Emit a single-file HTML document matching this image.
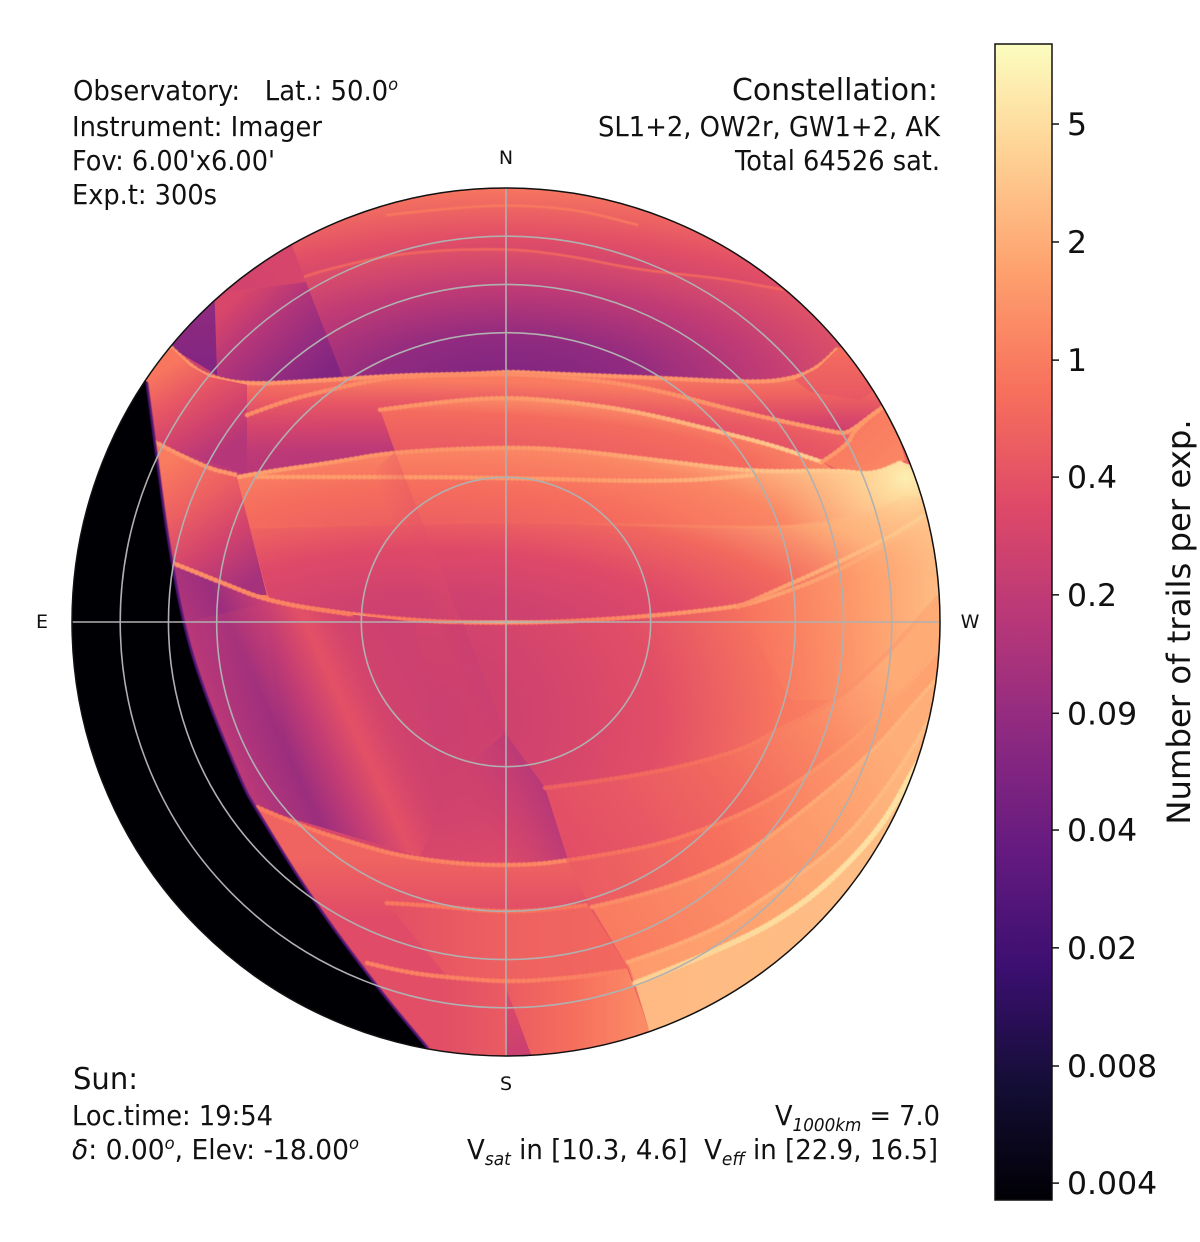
<!DOCTYPE html>
<html lang="en">
<head>
<meta charset="utf-8">
<title>Satellite trails sky map</title>
<style>
  html,body{margin:0;padding:0;background:#fff;}
  svg{display:block;}
  text{font-family:"DejaVu Sans","Liberation Sans",sans-serif;fill:#111;}
  .info{font-size:27.5px;}
</style>
</head>
<body>
<svg id="chart" xmlns="http://www.w3.org/2000/svg" width="1200" height="1242" viewBox="0 0 1200 1242">
  <defs id="defs">
    <clipPath id="disk-clip"><circle cx="506" cy="622" r="434"/></clipPath>
    <filter id="rim-soft" filterUnits="userSpaceOnUse" x="0" y="100" width="1000" height="1000"><feGaussianBlur stdDeviation="0.6"/></filter>
  </defs>
  <g id="heat" clip-path="url(#disk-clip)"></g>
  <g id="grid"></g>
  <circle cx="506" cy="622" r="434" fill="none" stroke="#111" stroke-width="1.5"/>
  <g id="compass" font-size="19"></g>

  <g class="info">
    <text x="73" y="100" textLength="325" lengthAdjust="spacingAndGlyphs" xml:space="preserve">Observatory:   Lat.: 50.0<tspan dy="-10" font-size="17" font-style="italic">o</tspan></text>
    <text x="72" y="136" textLength="250" lengthAdjust="spacingAndGlyphs">Instrument: Imager</text>
    <text x="72" y="170" textLength="203" lengthAdjust="spacingAndGlyphs">Fov: 6.00'x6.00'</text>
    <text x="72" y="204" textLength="145" lengthAdjust="spacingAndGlyphs">Exp.t: 300s</text>
  </g>
  <g class="info">
    <text x="732" y="100" font-size="30" textLength="206" lengthAdjust="spacingAndGlyphs">Constellation:</text>
    <text x="598" y="136" textLength="342" lengthAdjust="spacingAndGlyphs">SL1+2, OW2r, GW1+2, AK</text>
    <text x="735" y="170" textLength="205" lengthAdjust="spacingAndGlyphs">Total 64526 sat.</text>
  </g>
  <g class="info">
    <text x="73" y="1089" font-size="30" textLength="65" lengthAdjust="spacingAndGlyphs">Sun:</text>
    <text x="72" y="1125" textLength="201" lengthAdjust="spacingAndGlyphs">Loc.time: 19:54</text>
    <text x="72" y="1159" textLength="287" lengthAdjust="spacingAndGlyphs"><tspan font-style="italic">δ</tspan>: 0.00<tspan dy="-10" font-size="17" font-style="italic">o</tspan><tspan dy="10">, Elev: -18.00</tspan><tspan dy="-10" font-size="17" font-style="italic">o</tspan></text>
  </g>
  <g class="info">
    <text x="775" y="1125" textLength="165" lengthAdjust="spacingAndGlyphs">V<tspan dy="6" font-size="18" font-style="italic">1000km</tspan><tspan dy="-6"> = 7.0</tspan></text>
    <text x="467" y="1159" textLength="471" lengthAdjust="spacingAndGlyphs" xml:space="preserve">V<tspan dy="6" font-size="18" font-style="italic">sat</tspan><tspan dy="-6"> in [10.3, 4.6]  V</tspan><tspan dy="6" font-size="18" font-style="italic">eff</tspan><tspan dy="-6"> in [22.9, 16.5]</tspan></text>
  </g>

  <g id="colorbar"></g>
  <text transform="translate(1190,622) rotate(-90)" text-anchor="middle" font-size="32.3">Number of trails per exp.</text>
</svg>

<script>
// ---------- Colour axis data ----------
const tickValues = [0.004, 0.0088, 0.0195, 0.0431, 0.0946, 0.21, 0.464, 1.02, 2.26, 5];
const tickLabels = ["0.004", "0.008", "0.02", "0.04", "0.09", "0.2", "0.4", "1", "2", "5"];
const colorDomain = [0.00357, 8.57];
const magmaStops = ["#000004", "#140e36", "#3b0f70", "#641a80", "#8c2981", "#b73779", "#de4968", "#f7705c", "#fe9f6d", "#fecf92", "#fcfdbf"];

// ---------- Polar axis data (zenith angle, degrees; azimuth, degrees) ----------
const gridZenith = [30, 60, 70, 80];
const gridAzimuth = [0, 90, 180, 270];
const compassLetters = ["N", "W", "S", "E"];

// ---------- Sky regions, painted in order ----------
// Coordinates are sky offsets in degrees: [west of zenith, north of zenith].
const layerNames = [
  "cap-base", "cap-crest-top", "cap-crest-second", "cap-northeast-sliver", "cap-dark-sector", "cap-dark-wedge",
  "band-a", "band-a-east-side", "band-a-west-corner", "band-b", "band-c", "band-r1",
  "band-d", "crest-e", "band-f", "band-q", "dim-upper-diagonal", "band-g",
  "crest-g2", "crest-horizon", "band-fan", "fan-top-lighten", "dim-lower-diagonal", "diagonal-shade", "band-n",
  "band-o", "band-p", "south-wedge", "band-west", "west-glow", "band-i",
  "band-j", "band-k", "band-l", "band-m"
];
const layerEdges = [
  [],
  [[-24.9,84.4],[-11,85.9],[.8,86.5],[10.2,85.9],[17,85],[27.4,82.3]],
  [[-57.9,68.4],[-44.8,70.5],[-38,73],[-21.4,76.7],[-.2,77.6],[13.7,75.9],[27.4,73],[44.8,71.3],[55.2,69.3],[57.9,68.9]],
  [],
  [],
  [],
  [[-69.3,56.8],[-65.5,53.1],[-61.4,50.8],[-53.7,49.2],[-36.5,50.2],[-21.4,51.2],[-7.5,51.4],[.8,51.9],[6.6,51.6],[27.4,50.8],[52.3,49.6],[59.9,50.6],[64.7,52.7],[68.9,56.8]],
  [],
  [],
  [[-53.7,42.9],[-46.2,45.8],[-35.1,48.5],[-28.2,50],[-21.4,51],[0,51.4],[6.6,51.2],[27.4,49.2],[48.1,43.6],[68.9,39.2],[70.9,39.2],[75.1,42.3],[78,44.4]],
  [[-26.1,44],[-14.3,45.6],[-.2,46.7],[13.7,45.6],[27.4,43.6],[41.3,40.2],[55.2,36.7],[65.5,33.2]],
  [[65.5,33.2],[70.9,36.7],[71.8,39.2],[75.1,42.3],[78,44.4]],
  [[-56.2,29.9],[-51.6,30.9],[-35.1,33.2],[-23.4,35.3],[-.2,36.3],[13.7,35.7],[34.4,33.2],[51.6,31.1],[68.9,31.5],[75.9,30.5],[82.1,33.2]],
  [[-51.6,30.1],[-26.1,30.1],[-.2,29.9],[34.4,29],[51.6,30.5]],
  [[-58.9,19.5],[-35.1,20.1],[-.2,20.9],[27.4,20.1],[55.2,19.5],[65.5,20.5],[75.9,22.8],[82.8,26.3]],
  [[-72.8,37.3],[-62.8,32.1],[-55.9,30.5]],
  [],
  [[-69.1,12.2],[-59.3,8.3],[-48.9,4.1],[-31.7,1.5],[-14.3,0],[0,-.2],[10.2,0],[27.4,1],[48.1,3.1],[55.2,5.2],[68.9,10.4],[82.8,18.7],[86.9,22.2]],
  [[-55.6,3.9],[-47.5,2.9],[-36.5,2.1],[-28.2,.8]],
  [[-14.3,0],[0,0],[14.3,0]],
  [[-69.1,12.2],[-59.3,8.3],[-48.9,4.1],[-31.7,1.5]],
  [],
  [],
  [],
  [[-51.6,-38.4],[-42.1,-42.5],[-31.7,-45.8],[-21.4,-48.7],[-7.5,-50.4],[5.4,-50.4],[12.9,-49.4]],
  [[-24.7,-58.3],[-15.8,-58.7],[.8,-60.4],[17,-58.7]],
  [[-28.8,-70.7],[-21.4,-72.6],[-11,-73.8],[.8,-74.7],[13.7,-73.8],[25.3,-72.2]],
  [],
  [[48.1,3.1],[59.9,8.3],[68.9,12.4],[79.2,17.4],[86.9,22.2]],
  [],
  [[8.1,-34.4],[27.4,-32.1],[48.1,-27],[55.2,-23],[68.9,-16.2],[79.2,-6.4],[84.8,-.2],[89.6,5.2]],
  [[12.9,-49.4],[27.4,-47.3],[41.3,-43.1],[55.2,-36.9],[68.9,-27.2],[75.9,-20.9],[86.3,-10],[91,-3.7]],
  [[17.8,-59.1],[30.9,-56.2],[48.1,-49.4],[62,-39],[75.9,-27.2],[84.8,-16.8],[91,-10]],
  [[25.3,-70.5],[41.3,-65.3],[55.2,-56.2],[68.9,-46.7],[79.2,-34.2],[86.3,-23],[91,-14.1]],
  [[26.8,-74.9],[48.1,-66.6],[62,-58.3],[72.4,-48.7],[79.2,-40.4],[84.8,-30.1],[91,-20.3]]
];
const layerCloses = [
  [[-95,95],[95,95],[95,-95],[-95,-95]],
  null,
  [[73.4,58.5],[73.4,46],[-60.4,46]],
  [[-44.2,77.6],[-41.5,70.5],[-57.7,68.4],[-60.4,66.4],[-70,75],[-46,90]],
  [[-60.4,66.4],[-57.7,68.4],[-41.5,70.5],[-33.8,50.6],[-36.5,49.8],[-53.7,49.2],[-61.4,50.8]],
  [[-60.4,66.4],[-59.9,51.2],[-69.3,56.8],[-80,60],[-70,75]],
  [[79.6,58.5],[85.9,19],[-75.9,19],[-75.9,58.5]],
  [[68.9,56.8],[64.7,52.7],[59.9,50.2],[63,47.7],[73.4,46],[79.6,50.2],[75.5,58.5]],
  [[-69.3,56.8],[-65.5,53.1],[-61.4,50.8],[-53.7,49.2],[-53.7,30.5],[-72.8,37.3],[-75.9,50.2]],
  [[85.9,37.7],[81.7,19],[-53.7,19]],
  [[71.3,29.4],[71.3,19],[-17.8,19],[-23,35.3]],
  [[80.7,40.9],[82.8,33.6],[77.6,29.9],[68.9,31.5]],
  [[91,25.3],[91,-3.7],[-44.8,-3.7],[-49.6,5.6]],
  null,
  [[91,25.3],[91,-3.7],[-44.8,-3.7],[-49.6,6.2],[-53.1,19.5]],
  [[-49.6,5.6],[-67.6,5.6],[-70.7,18]],
  [[-23,35.3],[-9.5,.4],[-15.8,0],[-27.2,31.5]],
  [[94,22.2],[94,-99],[-84,-99],[-84,12.2]],
  null,
  null,
  [[-18.9,0],[-15.8,-20.3],[-12.7,-36.9],[-17.8,-48.7],[-52.1,-38.4],[-54.5,-34.2],[-62.8,-14.1],[-67,-.2]],
  [[-67,-.2],[-48.9,4.1],[-49.4,-3.7],[-45.8,-28.6],[-57,-28.6]],
  [[-8.9,-.2],[-.2,-23],[-3.3,-24.5],[-13.7,-.6]],
  [[-.2,-23],[8.1,-34.4],[12.9,-49.4],[-7.5,-50.4],[-10.6,-34.8],[-6,-28]],
  [[17.8,-59.7],[25.3,-71.6],[29.5,-84],[30.9,-92.9],[-17.8,-92.9],[-40.6,-57]],
  [[25.3,-71.6],[23.6,-76.3],[-12.2,-73.6]],
  [[29.5,-84],[30.9,-92.9],[-22,-92.9]],
  [[-.2,-75.3],[5.6,-90.8],[-.2,-90.8]],
  [[91,25],[91,-16.2],[59,-16.2]],
  [[51.6,31.1],[68.9,31.5],[75.9,30.5],[82.1,33.2],[91,30],[91,-5],[60,8],[48,25]],
  [[94,-37],[94,-99],[30.9,-92.9],[29.5,-84],[25.3,-71.6],[17.8,-59.7],[12.9,-49.4]],
  [[94,-99],[30.9,-92.9],[29.5,-84],[25.3,-71.6],[17.8,-59.7]],
  [[94,-99],[30.9,-92.9],[29.5,-84],[25.3,-71.6]],
  [[94,-99],[30.9,-92.9],[29.5,-84],[26.8,-74.9]],
  [[94,-99],[30.9,-92.9],[29.5,-84]]
];
const layerAxes = [
  ["r",0,48.1,107.8,42.5],
  null,
  ["r",0,48.1,107.8,42.5],
  ["l",-60,60,-44,78],
  ["l",-55.2,67.8,-38.6,50.2],
  ["l",-60,66,-60,51],
  ["l",0,51.9,0,36.7],
  ["l",70,56,70,46],
  ["l",-65.5,55.4,-55.2,37.7],
  ["r",-30.3,31.5,134.8,18.7],
  ["r",-22,29.5,99.6,18.7],
  ["l",70,42,80,32],
  ["r",-15.8,12.9,103.7,31.1],
  null,
  ["r",-15.8,-3.7,107.8,37.3],
  ["l",-69.7,33.6,-53.1,8.7],
  ["l",-16.4,18,-22.4,15.7],
  ["r",-17.8,-20.3,99.6,83],
  null,
  null,
  ["l",-62.4,-24.5,-23,-6.4],
  ["l",-50,0,-50,-28],
  ["l",-4.6,-11.4,-9.5,-13.7],
  ["l",5,-28.6,-8.5,-34.8],
  ["l",0,-49,0,-68],
  ["l",-22,0,23,0],
  ["l",-14,0,28,0],
  ["l",0,-76,0,-90],
  ["l",48,0,88,0],
  ["r",82.8,29.9,27,22.8],
  ["l",11.2,-53.5,77.6,-7.9],
  ["l",2.9,-57.7,81.7,-20.3],
  ["l",23.6,-68,81.7,-26.5],
  ["l",29.9,-74.2,81.7,-30.7],
  ["l",30,0,85,0]
];
const layerValues = [
  [.06,.085,.2,.42,.95],
  null,
  [.06,.085,.21,.5,1.0],
  [.28,.33],
  [.34,.17,.1,.065],
  [.085,.065],
  [1.05,.62,.33,.2],
  [.75,.5],
  [.9,.5,.3,.17],
  [.16,.2,.32,.5,1.0],
  [.45,.5,.6,.75,1.6],
  [.95,1.2],
  [.55,.6,.8,1.2,3.5],
  null,
  [.25,.28,.38,.72,2.2],
  [1.0,.6,.3,.13],
  [.4,.4],
  [.25,.3,.42,.9,1.6],
  null,
  null,
  [.24,.15,.105,.22,.44,.3,.27],
  [.26,.22],
  [.2,.2],
  [.18,.25],
  [.65,.5,.4,.4],
  [.45,.62,.7],
  [.42,.55,.8,1.3],
  [.4,.25],
  [1.1,1.3,1.9,2.8],
  [6.8,4.2,3,2.2],
  [.4,.5,.72,1.2,2.2],
  [.48,.6,.85,1.3,1.9],
  [1.0,1.3,1.7,2.3],
  [1.7,1.9,2.2,2.6],
  [2.8,3.0]
];
// Rim brightness along each edge, read west side to east side.
const layerRims = [
  null, [.95], [.68], null, null, null,
  [1.4], null, null, [1.2,1.2,1.3,1.6], [1.3,1.5,2.2,3.5], [1.5],
  [1.7,1.3,1.5,2.5,4.5], [1.6,1.5,1.5,2.5], [.8,.6,.7,1.3,3], [1.4], null, [1.3,.9,.9,1.6,3],
  [1.4], [1,4,1], [1.3,.9], null, null, null, [.9,1,1.1],
  [.85], [1.0], null, [1.3,1.9,2.6,3.4], null, [.55,.7,1.05,2.1],
  [.7,.9,1.4,2.1], [1.15,1.5,2,2.5], [1.85,2.1,2.4,2.8], [3.5,4.5,5]
];

// Earth-shadow terminator: black region west of this edge.
const shadowEdge = [[-74.5,49.8],[-72.8,37.3],[-70.3,18],[-67,-.2],[-62.8,-14.1],[-54.5,-34.2],[-52.1,-38.4],[-40.6,-57],[-26.8,-75.7],[-16.2,-88.4]];
const shadowClose = [[-16.2,-100],[-100,-100],[-100,60.6],[-84.2,60.6]];
const shadowValue = 0.00357;
const shadowRim = [0.025];

// ---------- Presentation (not data) ----------
const CX = 506, CY = 622, R = 434, HORIZON = 90;
const BAR = {x: 995, y: 44, w: 57, h: 1156};
const layerFades = {"west-glow": [1, 0], "dim-upper-diagonal": [.3, 0], "dim-lower-diagonal": [.3, 0], "diagonal-shade": [1, 0], "band-west": [0, 1], "fan-top-lighten": [.28, 0]};
const beadless = {"cap-crest-top": 1, "cap-crest-second": 1, "crest-horizon": 1, "band-f": 1, "earth-shadow": 1};
const thickRim = {"band-m": 1};
const NS = "http://www.w3.org/2000/svg";

// ---------- Axis functions ----------
function skyX(west) { return CX + west * R / HORIZON; }
function skyY(north) { return CY - north * R / HORIZON; }
function zenithRadius(z) { return z * R / HORIZON; }
function colorPos(v) {
  const p = Math.log(v / colorDomain[0]) / Math.log(colorDomain[1] / colorDomain[0]);
  return Math.max(0, Math.min(1, p));
}
function hexRgb(h) { return [1, 3, 5].map(i => parseInt(h.substr(i, 2), 16)); }
function colorOf(v) {
  const p = colorPos(v) * (magmaStops.length - 1);
  const i = Math.min(magmaStops.length - 2, Math.floor(p));
  const a = hexRgb(magmaStops[i]), b = hexRgb(magmaStops[i + 1]), f = p - i;
  return "rgb(" + a.map((c, k) => Math.round(c + (b[k] - c) * f)).join(",") + ")";
}
function barY(v) { return BAR.y + BAR.h * (1 - colorPos(v)); }
function fmtPoint(p) { return skyX(p[0]).toFixed(1) + " " + skyY(p[1]).toFixed(1); }
function edgePath(pts) {
  if (!pts.length) return "";
  let d = "M" + fmtPoint(pts[0]);
  for (let i = 1; i < pts.length - 1; i++) {
    const mid = [(pts[i][0] + pts[i + 1][0]) / 2, (pts[i][1] + pts[i + 1][1]) / 2];
    d += "Q" + fmtPoint(pts[i]) + " " + fmtPoint(mid);
  }
  if (pts.length > 1) d += "L" + fmtPoint(pts[pts.length - 1]);
  return d;
}
function regionPath(edge, close) {
  let d = edgePath(edge);
  close.forEach((p, i) => { d += (d === "" ? "M" : "L") + fmtPoint(p); });
  return d + "Z";
}
function make(tag, parent) {
  const el = document.createElementNS(NS, tag);
  parent.appendChild(el);
  return el;
}

// ---------- Draw the sky layers ----------
const heat = document.getElementById("heat");
const defs = document.getElementById("defs");

function addGradient(id, axis, values, fade) {
  let g;
  if (axis[0] === "r") {
    g = make("radialGradient", defs);
    g.setAttribute("cx", 0);
    g.setAttribute("cy", 0);
    g.setAttribute("r", 1);
    const rx = axis[3] * R / HORIZON, ry = axis[4] * R / HORIZON;
    g.setAttribute("gradientTransform", "translate(" + skyX(axis[1]) + " " + skyY(axis[2]) + ") scale(" + rx + " " + ry + ")");
  } else {
    g = make("linearGradient", defs);
    g.setAttribute("x1", skyX(axis[1]));
    g.setAttribute("y1", skyY(axis[2]));
    g.setAttribute("x2", skyX(axis[3]));
    g.setAttribute("y2", skyY(axis[4]));
  }
  g.setAttribute("id", id);
  g.setAttribute("gradientUnits", "userSpaceOnUse");
  values.forEach((v, i) => {
    const t = values.length > 1 ? i / (values.length - 1) : 0;
    const s = make("stop", g);
    s.setAttribute("offset", t);
    s.setAttribute("stop-color", colorOf(v));
    if (fade) s.setAttribute("stop-opacity", fade[0] + (fade[1] - fade[0]) * t);
  });
}

function addRimPaint(id, edge, values, gain) {
  const xs = edge.map(p => p[0]);
  const axis = ["l", Math.min.apply(null, xs), 0, Math.max.apply(null, xs), 0];
  addGradient(id, axis, values.map(v => v * gain), null);
  return "url(#" + id + ")";
}

function drawRim(edge, values, name) {
  const faint = values[0] < 0.1;
  const line = make("path", heat);
  
  
  line.setAttribute("d", edgePath(edge));
  line.setAttribute("fill", "none");
  line.setAttribute("stroke", addRimPaint("rim-" + name, edge, values, 1));
  line.setAttribute("stroke-width", faint ? 2.5 : (thickRim[name] ? 5 : (beadless[name] ? 2.5 : 3.5)));
  line.setAttribute("stroke-linejoin", "round");
  line.setAttribute("filter", "url(#rim-soft)");
  if (beadless[name]) return;
  const beads = make("path", heat);
  
  
  beads.setAttribute("d", edgePath(edge));
  beads.setAttribute("fill", "none");
  beads.setAttribute("stroke", addRimPaint("bead-" + name, edge, values, 1.12));
  beads.setAttribute("stroke-width", thickRim[name] ? 6 : 4.5);
  beads.setAttribute("stroke-linecap", "round");
  beads.setAttribute("stroke-dasharray", "0.1 5");
  beads.setAttribute("filter", "url(#rim-soft)");
}

layerNames.forEach((name, i) => {
  const close = layerCloses[i];
  if (close) {
    const id = "grad-" + i;
    addGradient(id, layerAxes[i], layerValues[i], layerFades[name]);
    const poly = make("path", heat);
    
    
    poly.setAttribute("d", regionPath(layerEdges[i], close));
    poly.setAttribute("fill", "url(#" + id + ")");
  }
  if (layerRims[i] !== null && layerEdges[i].length) drawRim(layerEdges[i], layerRims[i], name);
});

const shadow = make("path", heat);


shadow.setAttribute("d", regionPath(shadowEdge, shadowClose));
shadow.setAttribute("fill", colorOf(shadowValue));
drawRim(shadowEdge, shadowRim, "earth-shadow");

// ---------- Polar grid ----------
const grid = document.getElementById("grid");
gridZenith.forEach(z => {
  const c = make("circle", grid);
  
  
  c.setAttribute("cx", CX);
  c.setAttribute("cy", CY);
  c.setAttribute("r", zenithRadius(z));
  c.setAttribute("fill", "none");
  c.setAttribute("stroke", "#b0b0b0");
  c.setAttribute("stroke-width", 1.6);
});
gridAzimuth.forEach((az, i) => {
  const a = az * Math.PI / 180;
  const l = make("line", grid);
  
  
  l.setAttribute("x1", CX);
  l.setAttribute("y1", CY);
  l.setAttribute("x2", CX + R * Math.sin(a));
  l.setAttribute("y2", CY - R * Math.cos(a));
  l.setAttribute("stroke", "#b0b0b0");
  l.setAttribute("stroke-width", 1.6);
  const gap = az === 0 ? 30 : 28;
  const t = make("text", document.getElementById("compass"));
  
  
  t.setAttribute("x", CX + (R + 30) * Math.sin(a));
  t.setAttribute("y", CY - (R + gap) * Math.cos(a) + 6);
  t.setAttribute("text-anchor", "middle");
  t.textContent = compassLetters[i];
});

// ---------- Colorbar ----------
const bar = document.getElementById("colorbar");
const barGrad = make("linearGradient", defs);
barGrad.setAttribute("id", "bar-gradient");
barGrad.setAttribute("x1", 0);
barGrad.setAttribute("y1", 1);
barGrad.setAttribute("x2", 0);
barGrad.setAttribute("y2", 0);
magmaStops.forEach((c, i) => {
  const s = make("stop", barGrad);
  s.setAttribute("offset", i / (magmaStops.length - 1));
  s.setAttribute("stop-color", c);
});
const barRect = make("rect", bar);


barRect.setAttribute("x", BAR.x);
barRect.setAttribute("y", BAR.y);
barRect.setAttribute("width", BAR.w);
barRect.setAttribute("height", BAR.h);
barRect.setAttribute("fill", "url(#bar-gradient)");
barRect.setAttribute("stroke", "#111");
barRect.setAttribute("stroke-width", 1.5);
tickValues.forEach((v, i) => {
  const y = barY(v);
  const tick = make("line", bar);
  
  
  tick.setAttribute("x1", BAR.x + BAR.w);
  tick.setAttribute("x2", BAR.x + BAR.w + 7);
  tick.setAttribute("y1", y);
  tick.setAttribute("y2", y);
  tick.setAttribute("stroke", "#111");
  tick.setAttribute("stroke-width", 1.5);
  const label = make("text", bar);
  
  
  label.setAttribute("x", BAR.x + BAR.w + 15);
  label.setAttribute("y", y + 11);
  label.setAttribute("font-size", 31.5);
  label.textContent = tickLabels[i];
});
</script>
</body>
</html>
